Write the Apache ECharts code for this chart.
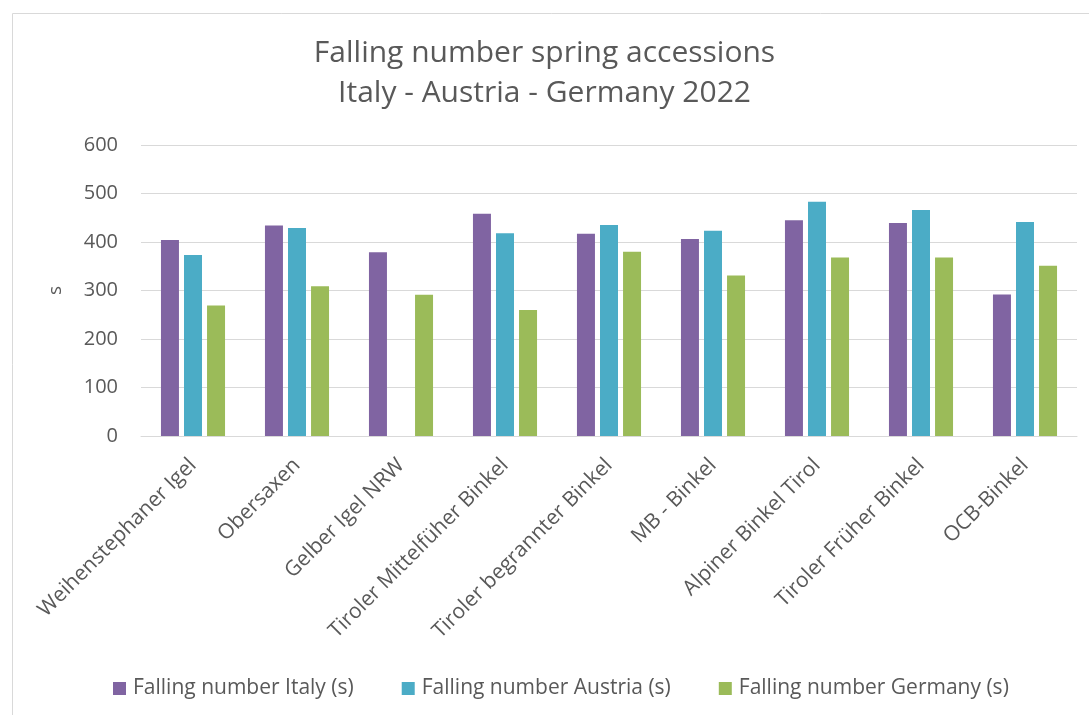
<!DOCTYPE html>
<html>
<head>
<meta charset="utf-8">
<script src="https://cdn.jsdelivr.net/npm/echarts@6/dist/echarts.min.js"></script>
<style>
  html, body { margin: 0; padding: 0; background: #fff; }
  #chart { width: 1089px; height: 715px; }
</style>
</head>
<body>
<div id="chart"></div>
<script>
// Accessions tested in 2022
const categories = [
  'Weihenstephaner Igel', 'Obersaxen', 'Gelber Igel NRW',
  'Tiroler Mittelfüher Binkel', 'Tiroler begrannter Binkel', 'MB - Binkel',
  'Alpiner Binkel Tirol', 'Tiroler Früher Binkel', 'OCB-Binkel'
];
// Falling number in seconds per site (no Austrian value for Gelber Igel NRW)
const italy   = [404, 434, 379, 458, 417, 406, 445, 439, 292];
const austria = [373, 429, null, 418, 435, 423, 483, 466, 441];
const germany = [269, 309, 291, 260, 380, 331, 368, 368, 351];
const seriesNames = [
  'Falling number Italy (s)',
  'Falling number Austria (s)',
  'Falling number Germany (s)'
];
const yTicks = { min: 0, max: 600, interval: 100 };

const colors = ['#8064A2', '#4BACC6', '#9BBB59'];
const font = '"Open Sans", "Liberation Sans", Arial, sans-serif';

const chart = echarts.init(document.getElementById('chart'), null, { renderer: 'canvas' });

const mkSeries = (name, data, color) => ({
  name, type: 'bar', data,
  barWidth: 18,
  barGap: '28%',
  itemStyle: { color },
  emphasis: { disabled: true }
});

chart.setOption({
  animation: false,
  color: colors,
  graphic: [{
    type: 'rect',
    shape: { x: 12.5, y: 13.5, width: 1090, height: 720 },
    style: { fill: 'none', stroke: '#D9D9D9', lineWidth: 1 },
    silent: true
  }],
  title: {
    text: 'Falling number spring accessions\nItaly - Austria - Germany 2022',
    left: 'center',
    top: 28,
    textStyle: {
      fontFamily: font, fontSize: 30, fontWeight: 'normal',
      color: '#595959', lineHeight: 40
    }
  },
  legend: {
    top: 673,
    left: 108,
    itemWidth: 13, itemHeight: 13,
    itemGap: 48,
    icon: 'rect',
    textStyle: { fontFamily: font, fontSize: 21, color: '#595959', padding: [0, 0, 0, 2] },
    data: seriesNames
  },
  grid: { left: 141, right: 12, top: 145, bottom: 279, containLabel: false },
  xAxis: {
    type: 'category',
    data: categories,
    axisLine: { lineStyle: { color: '#D9D9D9', width: 1 } },
    axisTick: { show: false },
    axisLabel: {
      interval: 0, rotate: 45, margin: 26,
      fontFamily: font, fontSize: 21, color: '#595959'
    }
  },
  yAxis: {
    type: 'value',
    min: yTicks.min, max: yTicks.max, interval: yTicks.interval,
    name: 's',
    nameLocation: 'middle',
    nameGap: 76,
    nameRotate: 90,
    nameTextStyle: { fontFamily: font, fontSize: 19, color: '#595959' },
    axisLine: { show: false },
    axisTick: { show: false },
    splitLine: { lineStyle: { color: '#D9D9D9', width: 1 } },
    axisLabel: { margin: 23, fontFamily: font, fontSize: 20, color: '#595959' }
  },
  series: [
    mkSeries(seriesNames[0], italy, colors[0]),
    mkSeries(seriesNames[1], austria, colors[1]),
    mkSeries(seriesNames[2], germany, colors[2])
  ]
});
</script>
</body>
</html>
